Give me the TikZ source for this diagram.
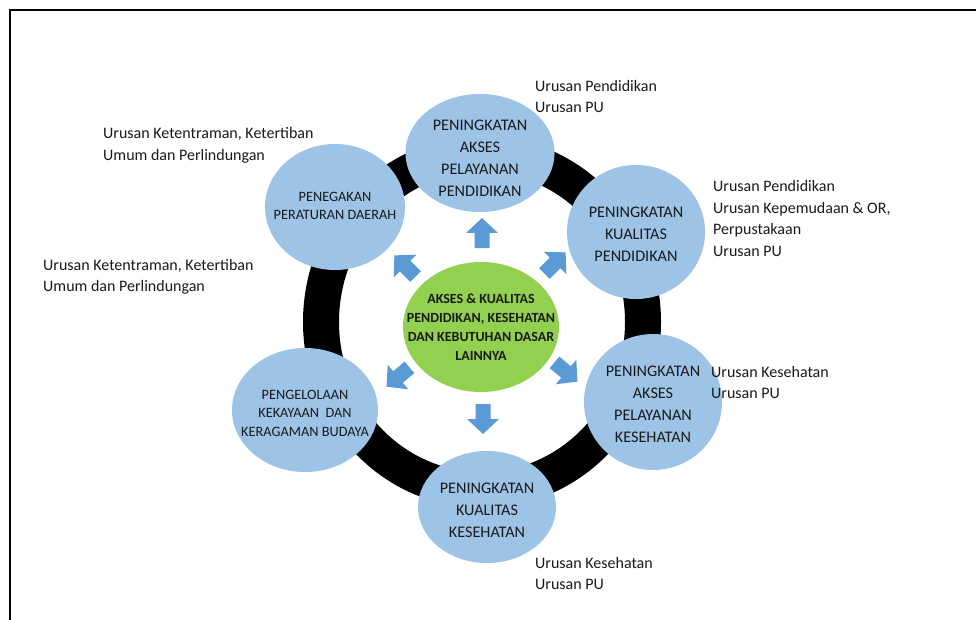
\documentclass[tikz,border=0pt]{standalone}
\usepackage{fontspec}
\setmainfont{Carlito}
\usetikzlibrary{shapes.geometric}
\definecolor{satc}{HTML}{9DC3E6}
\definecolor{hubc}{HTML}{92D050}
\definecolor{arrc}{HTML}{5B9BD5}
\definecolor{ink}{HTML}{1A1A1A}
\newcommand\blockarrow[2]{\fill[arrc, shift={(#1)}, rotate=#2] (-15,-7.5) -- (0,-7.5) -- (0,-16) -- (15,0) -- (0,16) -- (0,7.5) -- (-15,7.5) -- cycle;}
\begin{document}
\begin{tikzpicture}[x=1pt,y=-1pt,
  sat/.style={inner sep=0pt, align=center, text=ink, font=\fontsize{16.2}{22}\selectfont},
  satsmall/.style={sat, font=\fontsize{14.3}{18.5}\selectfont},
  lbl/.style={anchor=west, align=left, inner sep=0pt, text=ink, font=\fontsize{16}{21.5}\selectfont}]
\useasboundingbox (0,0) rectangle (976,620);
\fill[white] (0,0) rectangle (976,620);
\draw[line width=2pt] (10,622) -- (10,10) -- (978,10);
\node[ellipse, draw=black, line width=36pt, minimum width=322pt, minimum height=336pt] (ring) at (482,322) {};
\fill[satc] (480,153) ellipse [x radius=74.5, y radius=59];
\fill[satc] (636,232) ellipse [x radius=69, y radius=67];
\fill[satc] (653,402) ellipse [x radius=69, y radius=68];
\fill[satc] (487,507) ellipse [x radius=69, y radius=56];
\fill[satc] (305,410) ellipse [x radius=73, y radius=62];
\fill[satc] (335,207) ellipse [x radius=70, y radius=63];
\node[sat] (s1) at (480,158) {PENINGKATAN\\AKSES\\PELAYANAN\\PENDIDIKAN};
\node[sat] (s2) at (636,234) {PENINGKATAN\\KUALITAS\\PENDIDIKAN};
\node[sat] (s3) at (653,404) {PENINGKATAN\\AKSES\\PELAYANAN\\KESEHATAN};
\node[sat] (s4) at (487,510) {PENINGKATAN\\KUALITAS\\KESEHATAN};
\node[satsmall] (s5) at (305,413) {PENGELOLAAN\\KEKAYAAN\ \ DAN\\KERAGAMAN BUDAYA};
\node[satsmall] (s6) at (335,206) {PENEGAKAN\\PERATURAN DAERAH};
\blockarrow{482,233}{90}
\blockarrow{483,419}{-90}
\blockarrow{555,263}{45}
\blockarrow{405,266}{135}
\blockarrow{398,377}{220}
\blockarrow{566,372}{-40}
\fill[hubc] (481,327) ellipse [x radius=78, y radius=65];
\node[align=center, inner sep=0pt, text=ink, font=\bfseries\fontsize{14}{19}\selectfont] (hub) at (481,327) {AKSES \& KUALITAS\\PENDIDIKAN, KESEHATAN\\DAN KEBUTUHAN DASAR\\LAINNYA};
\node[lbl] (l1) at (535,96.5) {Urusan Pendidikan\\Urusan PU};
\node[lbl] (l2) at (103,145.5) {Urusan Ketentraman, Ketertiban\\Umum dan Perlindungan};
\node[lbl] (l3) at (713,218.5) {Urusan Pendidikan\\Urusan Kepemudaan \& OR,\\Perpustakaan\\Urusan PU};
\node[lbl] (l4) at (43,277) {Urusan Ketentraman, Ketertiban\\Umum dan Perlindungan};
\node[lbl] (l5) at (711,382.5) {Urusan Kesehatan\\Urusan PU};
\node[lbl] (l6) at (535,573.5) {Urusan Kesehatan\\Urusan PU};
\end{tikzpicture}
\end{document}
